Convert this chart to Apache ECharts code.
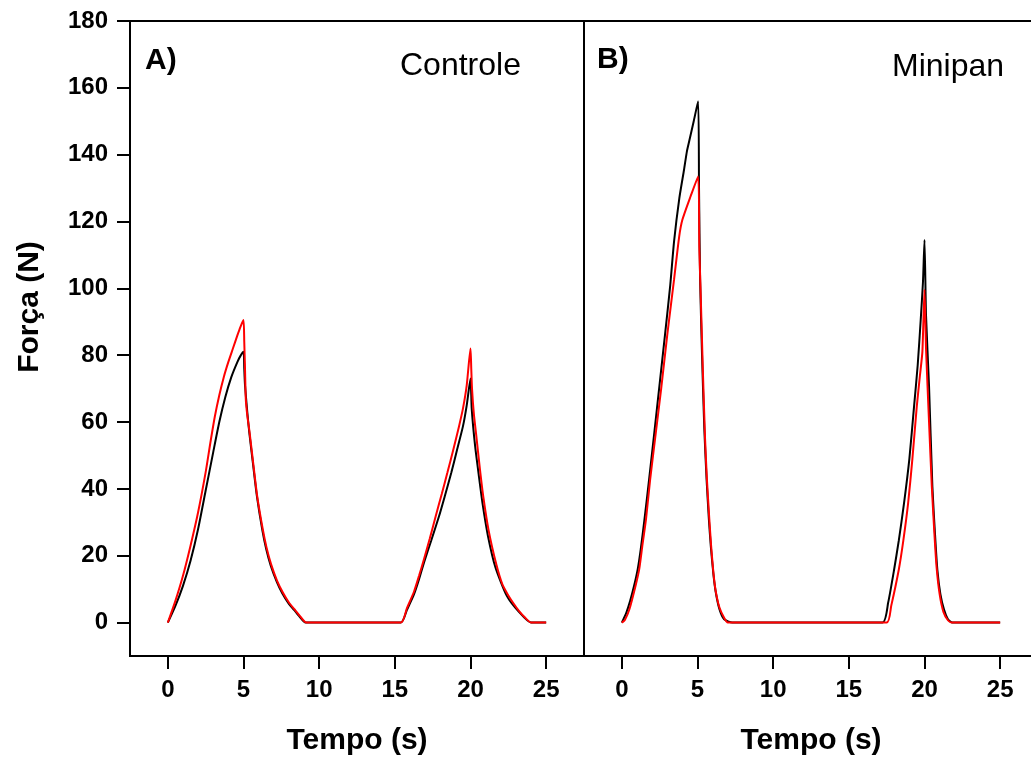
<!DOCTYPE html>
<html>
<head>
<meta charset="utf-8">
<script src="https://cdn.jsdelivr.net/npm/echarts@6/dist/echarts.min.js"></script>
<style>
  html, body { margin: 0; padding: 0; background: #fff; }
  #chart { width: 1031px; height: 760px; }
</style>
</head>
<body>
<div id="chart"></div>
<script>
// tick values
const tempoTicks = [0, 5, 10, 15, 20, 25];
const forcaTicks = [0, 20, 40, 60, 80, 100, 120, 140, 160, 180];

// A) Controle  [tempo (s), forca (N)]
const controlePreto = [
  [0, 0], [0.5, 5], [1.0, 11], [1.5, 18.5], [2.0, 28], [2.5, 39.5], [3.0, 51], [3.4, 60],
  [3.8, 67.5], [4.2, 73.5], [4.6, 78], [4.8, 79.8], [5.0, 81],
  [5.05, 76], [5.1, 71], [5.25, 63], [5.38, 57], [5.64, 47], [5.88, 38], [6.25, 27.5],
  [6.5, 22], [6.8, 17], [7.2, 12.2], [7.57, 8.7], [8.0, 5.6], [8.34, 3.8], [8.7, 1.8], [9.1, 0],
  [15.4, 0], [15.8, 3.8], [16.27, 8.5], [16.6, 13], [16.93, 18], [17.4, 24.5], [17.92, 31.8],
  [18.3, 37.8], [18.73, 44.8], [19.1, 51.5], [19.5, 58.7], [19.75, 65], [20.0, 73],
  [20.08, 64], [20.3, 53], [20.55, 44], [20.8, 35.5], [21.15, 26], [21.65, 16.5],
  [22.4, 8], [23.2, 3.2], [24.0, 0], [25, 0]
];
const controleVermelho = [
  [0, 0], [0.5, 6.5], [1.0, 14], [1.5, 23], [2.0, 33], [2.5, 45], [2.8, 53.5], [3.1, 61.5],
  [3.4, 68], [3.7, 73.5], [4.0, 78], [4.3, 82], [4.6, 86], [4.8, 88.5], [5.0, 90.5],
  [5.05, 84], [5.1, 76], [5.15, 67], [5.25, 62], [5.4, 57], [5.66, 47], [5.9, 38], [6.27, 28],
  [6.52, 22.5], [6.82, 17.5], [7.22, 12.5], [7.6, 9], [8.0, 6], [8.36, 4], [8.72, 2], [9.15, 0],
  [15.4, 0], [15.8, 4.3], [16.27, 9.3], [16.6, 14], [16.93, 19], [17.3, 25], [17.7, 31.8],
  [18.1, 38.5], [18.47, 44.8], [18.85, 51.5], [19.24, 58.7], [19.5, 64], [19.75, 71], [20.0, 82],
  [20.05, 76], [20.1, 70], [20.22, 62.5], [20.38, 56], [20.62, 46], [20.85, 37.5], [21.2, 27.5],
  [21.7, 17.5], [22.1, 11.5], [22.45, 8.5], [22.8, 6], [23.2, 3.5], [23.6, 1.5], [24.0, 0], [25, 0]
];

// B) Minipan
const minipanPreto = [
  [0, 0], [0.3, 3], [0.55, 6.5], [0.81, 11], [1.05, 16], [1.25, 22], [1.5, 31], [1.8, 42.8],
  [2.15, 57], [2.5, 71.5], [2.85, 86], [3.2, 101], [3.45, 114], [3.8, 127], [4.11, 135.5],
  [4.3, 141], [4.45, 144], [4.75, 150], [5.04, 156],
  [5.1, 130], [5.17, 103], [5.3, 80], [5.45, 58], [5.6, 42.8], [5.75, 31], [5.88, 22.8],
  [6.05, 14.5], [6.21, 9], [6.45, 4], [6.76, 1], [7.3, 0], [17.22, 0],
  [17.6, 6], [17.99, 15.8], [18.3, 24.5], [18.65, 35.8], [19.0, 49], [19.31, 64.7], [19.55, 77],
  [19.75, 90.6], [19.9, 102], [20.0, 114.5],
  [20.1, 92], [20.3, 70.7], [20.52, 40.8], [20.7, 26], [20.85, 15.8], [21.05, 8.5], [21.29, 3.9],
  [21.55, 1], [21.84, 0], [25, 0]
];
const minipanVermelho = [
  [0, 0], [0.2, 0.8], [0.5, 4], [0.9, 10.9], [1.15, 16], [1.35, 22.8], [1.6, 31], [1.87, 42.8],
  [2.25, 57], [2.6, 70], [3.0, 86], [3.45, 102.6], [3.79, 115.5], [4.0, 120.5], [4.5, 127], [5.04, 133.5],
  [5.12, 112], [5.2, 100], [5.35, 76], [5.5, 55], [5.62, 43], [5.78, 31], [5.9, 23], [6.05, 15],
  [6.2, 9.5], [6.45, 4.5], [6.75, 1.5], [7.0, 0], [17.5, 0],
  [17.8, 5], [18.3, 15.8], [18.6, 24.5], [18.92, 35.8], [19.2, 49], [19.49, 64.7], [19.7, 74],
  [19.86, 81], [20.0, 99.6],
  [20.1, 82], [20.3, 60], [20.48, 41], [20.65, 27], [20.8, 16.5], [21.0, 8.5], [21.25, 3.2],
  [21.55, 0.7], [21.8, 0], [25, 0]
];

const FONT = 'Liberation Sans, Arial, Helvetica, sans-serif';

function xAxisFor(gridIndex) {
  return {
    type: 'value', gridIndex: gridIndex, min: -2.5, max: 27.5,
    name: 'Tempo (s)', nameLocation: 'middle', nameGap: 70,
    nameTextStyle: { fontFamily: FONT, fontWeight: 'bold', fontSize: 30, color: '#000' },
    axisLine: { show: true, onZero: false, lineStyle: { color: '#000', width: 2 } },
    axisTick: { show: true, length: 13, customValues: tempoTicks, lineStyle: { color: '#000', width: 2 } },
    axisLabel: { customValues: tempoTicks, margin: 22, fontFamily: FONT, fontWeight: 'bold', fontSize: 24, color: '#000' },
    splitLine: { show: false }
  };
}

function lineSeries(data, color, xi, yi) {
  return {
    type: 'line', data: data, xAxisIndex: xi, yAxisIndex: yi,
    showSymbol: false, symbol: 'none', smooth: 0.2,
    lineStyle: { color: color, width: 2 }
  };
}

const chart = echarts.init(document.getElementById('chart'));

chart.setOption({
  animation: false,
  grid: [
    { left: 130, top: 21, width: 454, height: 635, outerBoundsMode: 'none',
      show: true, borderColor: '#000', borderWidth: 2, backgroundColor: 'transparent' },
    { left: 584, top: 21, width: 454, height: 635, outerBoundsMode: 'none',
      show: true, borderColor: '#000', borderWidth: 2, backgroundColor: 'transparent' }
  ],
  xAxis: [xAxisFor(0), xAxisFor(1)],
  yAxis: [
    {
      type: 'value', gridIndex: 0, min: -10, max: 180,
      axisLine: { show: true, onZero: false, lineStyle: { color: '#000', width: 2 } },
      axisTick: { show: true, length: 13, customValues: forcaTicks, lineStyle: { color: '#000', width: 2 } },
      axisLabel: { customValues: forcaTicks, margin: 22, fontFamily: FONT, fontWeight: 'bold', fontSize: 24, color: '#000' },
      splitLine: { show: false }
    },
    {
      type: 'value', gridIndex: 1, min: -10, max: 180,
      axisLine: { show: true, onZero: false, lineStyle: { color: '#000', width: 2 } },
      axisTick: { show: false },
      axisLabel: { show: false },
      splitLine: { show: false }
    }
  ],
  graphic: [
    { type: 'text', x: 30, y: 307, rotation: Math.PI / 2,
      style: { text: 'Força (N)', fontFamily: FONT, fontWeight: 'bold', fontSize: 30, fill: '#000', align: 'center', verticalAlign: 'middle' } },
    { type: 'text', x: 145, y: 61,
      style: { text: 'A)', fontFamily: FONT, fontWeight: 'bold', fontSize: 30, fill: '#000', align: 'left', verticalAlign: 'middle' } },
    { type: 'text', x: 400, y: 66,
      style: { text: 'Controle', fontFamily: FONT, fontSize: 32, fill: '#000', align: 'left', verticalAlign: 'middle' } },
    { type: 'text', x: 597, y: 60,
      style: { text: 'B)', fontFamily: FONT, fontWeight: 'bold', fontSize: 30, fill: '#000', align: 'left', verticalAlign: 'middle' } },
    { type: 'text', x: 892, y: 67,
      style: { text: 'Minipan', fontFamily: FONT, fontSize: 32, fill: '#000', align: 'left', verticalAlign: 'middle' } }
  ],
  series: [
    lineSeries(controlePreto, '#000000', 0, 0),
    lineSeries(controleVermelho, '#ff0000', 0, 0),
    lineSeries(minipanPreto, '#000000', 1, 1),
    lineSeries(minipanVermelho, '#ff0000', 1, 1)
  ]
});
</script>
</body>
</html>
